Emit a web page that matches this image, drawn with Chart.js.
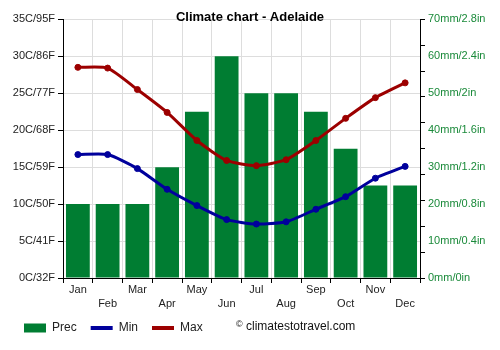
<!DOCTYPE html>
<html>
<head>
<meta charset="utf-8">
<script src="https://cdn.jsdelivr.net/npm/chart.js@4.4.0/dist/chart.umd.min.js"></script>
<style>
  body { margin: 0; background: #fff; }
  #wrap { position: relative; width: 500px; height: 350px; }
  #copy { position: absolute; left: 236px; top: 319px; font: 12px 'Liberation Sans', Arial, sans-serif; color: #111; }
  #copy span { font-size: 9px; vertical-align: 3px; }
</style>
</head>
<body>
<div id="wrap">
  <canvas id="grafico" width="500" height="350"></canvas>
  <div id="copy"><span>©</span> climatestotravel.com</div>
</div>
<script>
const months = ['Jan', 'Feb', 'Mar', 'Apr', 'May', 'Jun', 'Jul', 'Aug', 'Sep', 'Oct', 'Nov', 'Dec'];
const prec = [20, 20, 20, 30, 45, 60, 50, 50, 45, 35, 25, 25];
const tMin = [16.7, 16.7, 14.8, 12.0, 9.8, 7.9, 7.3, 7.6, 9.3, 11.0, 13.5, 15.1];
const tMax = [28.5, 28.4, 25.5, 22.4, 18.6, 15.9, 15.2, 16.0, 18.6, 21.6, 24.4, 26.4];

Chart.defaults.font.family = "'Liberation Sans', Arial, sans-serif";
Chart.defaults.font.size = 11;
Chart.defaults.color = '#222';

let ctx = document.getElementById('grafico');

// moves the legend a bit, like the original
const legendShift = {
    id: 'legendShift',
    afterLayout(c) {
        c.legend.left += 10;
        c.legend.right += 10;
        c.legend.top -= 4;
        c.legend.bottom -= 4;
    }
};

const data = {
    labels: months,
    datasets: [{
        type: 'bar',
        label: 'Prec',
        data: prec,
        yAxisID: 'y2',
        backgroundColor: '#007d32',
        barPercentage: 0.8,
        categoryPercentage: 1.0,
        order: 1
    }, {
        type: 'line',
        label: 'Min',
        data: tMin,
        yAxisID: 'y',
        borderColor: '#00009c',
        backgroundColor: '#00009c',
        borderWidth: 3,
        pointRadius: 3,
        pointBorderWidth: 1,
        tension: 0.2,
        order: 0
    }, {
        type: 'line',
        label: 'Max',
        data: tMax,
        yAxisID: 'y',
        borderColor: '#9c0000',
        backgroundColor: '#9c0000',
        borderWidth: 3,
        pointRadius: 3,
        pointBorderWidth: 1,
        tension: 0.2,
        order: 0
    }]
};

const chart = new Chart(ctx, {
    data: data,
    plugins: [legendShift],
    options: {
        responsive: false,
        animation: false,
        layout: { padding: { left: 0, right: 0, top: 0, bottom: 2 } },
        plugins: {
            tooltip: { enabled: false },
            title: {
                display: true,
                text: 'Climate chart - Adelaide',
                color: '#000',
                font: { size: 13, weight: 'bold' },
                padding: { top: 10, bottom: -6.3 }
            },
            legend: {
                position: 'bottom',
                align: 'start',
                labels: {
                    color: '#222',
                    font: { size: 12 },
                    boxWidth: 22,
                    boxHeight: 9,
                    padding: 14,
                    sort: (a, b) => a.datasetIndex - b.datasetIndex,
                    generateLabels: function (c) {
                        const items = Chart.defaults.plugins.legend.labels.generateLabels(c);
                        items.forEach(it => {
                            if (it.datasetIndex > 0) {
                                it.pointStyle = 'line';
                                it.lineWidth = 4;
                            } else {
                                it.pointStyle = 'rect';
                                it.lineWidth = 0;
                            }
                        });
                        return items;
                    },
                    usePointStyle: true,
                    pointStyleWidth: 22
                }
            }
        },
        scales: {
            x: {
                grid: { color: '#dddddd', tickColor: '#000', tickLength: 5, offset: true },
                border: { color: '#000' },
                ticks: {
                    autoSkip: false,
                    maxRotation: 0,
                    padding: 0,
                    color: '#222',
                    font: { lineHeight: 1.3 },
                    callback: function (v, i) {
                        return i % 2 === 0 ? months[i] : ['', months[i]];
                    }
                },
                afterFit: s => { s.height = 34; }
            },
            y: {
                position: 'left',
                min: 0,
                max: 35,
                grid: { color: '#dddddd', tickColor: '#000', tickLength: 5 },
                border: { color: '#000' },
                ticks: {
                    stepSize: 5,
                    padding: 3,
                    color: '#222',
                    callback: v => v + 'C/' + Math.round(v * 9 / 5 + 32) + 'F'
                },
                afterFit: s => { s.width = 63; }
            },
            y2: {
                position: 'right',
                min: 0,
                max: 70,
                grid: {
                    drawOnChartArea: false,
                    tickLength: 5,
                    tickColor: c => (c.tick && c.tick.value % 7 === 0) ? '#000' : 'rgba(0,0,0,0)'
                },
                border: { color: '#000' },
                afterBuildTicks: function (s) {
                    const vals = [];
                    for (let v = 0; v <= 70; v++) {
                        if (v % 7 === 0 || v % 10 === 0) vals.push({ value: v });
                    }
                    s.ticks = vals;
                },
                ticks: {
                    autoSkip: false,
                    padding: 3,
                    color: '#1a8a3a',
                    callback: v => v % 10 === 0 ? v + 'mm/' + parseFloat((v * 0.04).toFixed(1)) + 'in' : ''
                },
                afterFit: s => { s.width = 80; }
            }
        }
    }
});
</script>
</body>
</html>
